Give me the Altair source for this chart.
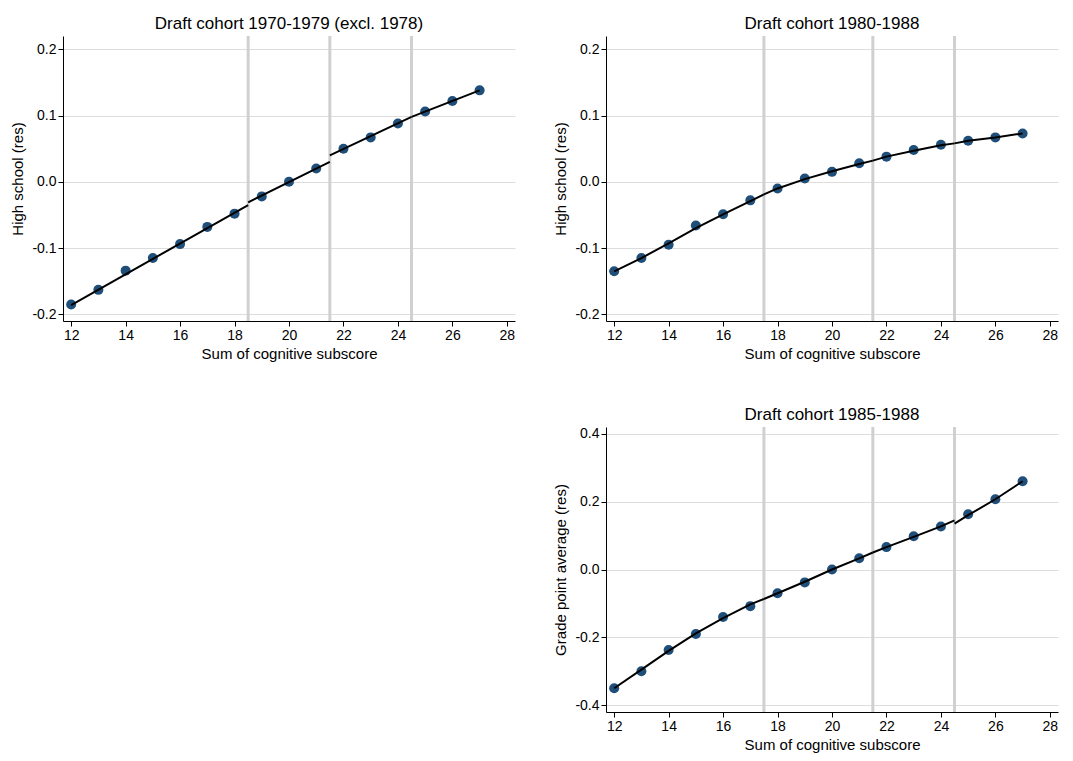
import altair as alt
import pandas as pd

xs = list(range(12, 28))
p1_y = [-0.185, -0.163, -0.134, -0.115, -0.094, -0.068, -0.048, -0.022, 0.0, 0.020, 0.050, 0.067, 0.088, 0.106, 0.122, 0.138]
p2_y = [-0.135, -0.115, -0.095, -0.066, -0.049, -0.028, -0.010, 0.005, 0.015, 0.028, 0.038, 0.048, 0.056, 0.062, 0.067, 0.073]
p3_y = [-0.350, -0.300, -0.237, -0.190, -0.140, -0.108, -0.070, -0.038, 0.0, 0.033, 0.066, 0.098, 0.127, 0.163, 0.207, 0.260]

# fitted piecewise lines: (x, y, segment)
p1_fit_x = [12, 18.5, 18.5, 21.5, 21.5, 24.5, 24.5, 27]
p1_fit_y = [-0.186, -0.035, -0.031, 0.030, 0.040, 0.098, 0.098, 0.138]
p1_fit_s = [1, 1, 2, 2, 3, 3, 4, 4]
p2_fit_x = [12, 13, 14, 15, 16, 17, 17.5, 17.5, 18, 19, 20, 21, 21.5, 21.5, 22, 23, 24, 24.5, 24.5, 25, 26, 27]
p2_fit_y = [-0.135, -0.115, -0.093, -0.070, -0.049, -0.029, -0.019, -0.019, -0.010, 0.004, 0.016, 0.027, 0.032, 0.032, 0.038, 0.047, 0.055, 0.058, 0.058, 0.062, 0.067, 0.073]
p2_fit_s = [1]*7 + [2]*6 + [3]*5 + [4]*4
p3_fit_x = [12, 13, 14, 15, 16, 17, 17.5, 17.5, 18, 19, 20, 21, 21.5, 21.5, 22, 23, 24, 24.5, 24.5, 25, 26, 27]
p3_fit_y = [-0.350, -0.295, -0.240, -0.188, -0.143, -0.103, -0.087, -0.087, -0.070, -0.036, 0.0, 0.033, 0.050, 0.050, 0.066, 0.096, 0.127, 0.145, 0.135, 0.160, 0.207, 0.260]
p3_fit_s = [1]*7 + [2]*6 + [3]*5 + [4]*4

W, H = 452, 285
FONT = "Liberation Sans"

def panel(title, ys, fx, fy, fs, cuts, ydom, yticks, ytitle, xtitle=True):
    pts = pd.DataFrame({"x": xs, "y": ys})
    fit = pd.DataFrame({"x": fx, "y": fy, "s": fs})
    cut = pd.DataFrame({"c": cuts})
    xsc = alt.Scale(domain=[11.7, 28.3], nice=False, zero=False)
    ysc = alt.Scale(domain=ydom, nice=False, zero=False)
    xax = alt.Axis(values=list(range(12, 29, 2)), grid=False, title="Sum of cognitive subscore" if xtitle else "",
                   domainColor="black", tickColor="black", labelColor="black", titleColor="black",
                   labelFont=FONT, titleFont=FONT, labelFontSize=14, titleFontSize=15, titleFontWeight="normal",
                   titlePadding=4)
    yax = alt.Axis(values=yticks, grid=True, gridColor="#dddddd", title=ytitle,
                   labelExpr="replace(format(datum.value,'.1f'),'\u2212','-')",
                   domainColor="black", tickColor="black", labelColor="black", titleColor="black",
                   labelFont=FONT, titleFont=FONT, labelFontSize=14, titleFontSize=15, titleFontWeight="normal",
                   titlePadding=6)
    base_pts = alt.Chart(pts).mark_circle(size=100, color="#1f4e79", opacity=1).encode(
        x=alt.X("x:Q", scale=xsc, axis=xax), y=alt.Y("y:Q", scale=ysc, axis=yax))
    rules = alt.Chart(cut).mark_rule(color="#d0d0d0", strokeWidth=3).encode(x=alt.X("c:Q", scale=xsc))
    line = alt.Chart(fit).mark_line(color="black", strokeWidth=2).encode(
        x=alt.X("x:Q", scale=xsc), y=alt.Y("y:Q", scale=ysc), detail="s:N")
    return alt.layer(rules, base_pts, line).properties(
        width=W, height=H,
        title=alt.TitleParams(title, font=FONT, fontSize=17, fontWeight="normal", color="black", offset=2))

c1 = panel("Draft cohort 1970-1979 (excl. 1978)", p1_y, p1_fit_x, p1_fit_y, p1_fit_s, [18.5, 21.5, 24.5],
           [-0.21, 0.22], [-0.2, -0.1, 0.0, 0.1, 0.2], "High school (res)")
c2 = panel("Draft cohort 1980-1988", p2_y, p2_fit_x, p2_fit_y, p2_fit_s, [17.5, 21.5, 24.5],
           [-0.21, 0.22], [-0.2, -0.1, 0.0, 0.1, 0.2], "High school (res)")
c3 = panel("Draft cohort 1985-1988", p3_y, p3_fit_x, p3_fit_y, p3_fit_s, [17.5, 21.5, 24.5],
           [-0.42, 0.42], [-0.4, -0.2, 0.0, 0.2, 0.4], "Grade point average (res)")
blank = alt.Chart(pd.DataFrame({"x": [0]})).mark_point(opacity=0).encode(
    x=alt.X("x:Q", axis=None), y=alt.Y("x:Q", axis=None)).properties(width=W, height=H)

chart = alt.vconcat(
    alt.hconcat(c1, c2, spacing=38),
    alt.hconcat(blank, c3, spacing=38),
    spacing=44,
).configure(
    background="white", padding={"left": 2, "top": 6, "right": 2, "bottom": 2}
).configure_view(strokeWidth=0, stroke=None)

chart.save("out.html", embed_options={"renderer": "svg", "actions": False})
